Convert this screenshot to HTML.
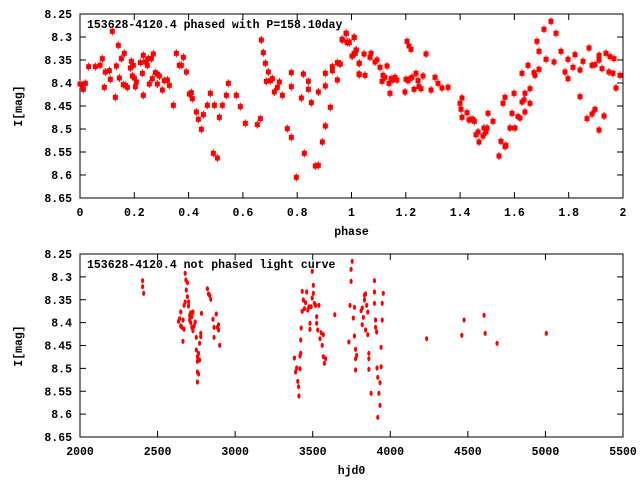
<!DOCTYPE html>
<html><head><meta charset="utf-8"><style>
body{margin:0;background:#fff}
svg text{font-family:"Liberation Mono",monospace;font-size:11.5px;font-weight:bold;fill:#000}
</style></head><body>
<svg id="s" width="640" height="480" xmlns="http://www.w3.org/2000/svg"></svg>
<script>
const s=document.getElementById('s');let h='';
function frame(x0,y0,x1,y1,xt,yl,title,xlab,ylabY){
 h+=`<rect x="${x0}" y="${y0}" width="${x1-x0}" height="${y1-y0}" fill="none" stroke="#000" stroke-width="1"/>`;
 const ys=['8.25','8.3','8.35','8.4','8.45','8.5','8.55','8.6','8.65'];
 ys.forEach((t,i)=>{const y=y0+(y1-y0)*i/8;h+=`<line x1="${x0}" y1="${y}" x2="${x0+6}" y2="${y}" stroke="#000"/><line x1="${x1}" y1="${y}" x2="${x1-6}" y2="${y}" stroke="#000"/><text x="72" y="${y+4}" text-anchor="end">${t}</text>`;});
 xt.forEach((t,i)=>{const x=x0+(x1-x0)*i/(xt.length-1);h+=`<line x1="${x}" y1="${y0}" x2="${x}" y2="${y0+6}" stroke="#000"/><line x1="${x}" y1="${y1}" x2="${x}" y2="${y1-6}" stroke="#000"/><text x="${x}" y="${y1+18}" text-anchor="middle">${t}</text>`;});
 h+=`<text x="87" y="${y0+14}">${title}</text><text x="${(x0+x1)/2}" y="${y1+37}" text-anchor="middle">${xlab}</text><text transform="translate(22,${ylabY}) rotate(-90)" text-anchor="middle">I[mag]</text>`;
}
frame(80,14,623,198,['0','0.2','0.4','0.6','0.8','1','1.2','1.4','1.6','1.8','2'],0,'153628-4120.4 phased with P=158.10day','phase',106);
frame(80,254,623,437,['2000','2500','3000','3500','4000','4500','5000','5500'],0,'153628-4120.4 not phased light curve','hjd0',346);
const z1=[[60,252],[66,258],[70,268],[76,250],[86,200],[106,200],[120,196],[127,176],[133,262],[136,216],[148,212],[151,238],[157,94],[166,292],[169,198],[175,136],[178,234],[184,176],[190,254],[193,160],[196,256],[202,262],[211,204],[214,184],[217,228],[220,196],[223,234],[226,260],[229,246],[241,188],[247,220],[250,166],[250,286],[256,186],[262,196],[265,176],[268,252],[274,176],[277,236],[280,162],[286,218],[292,222],[292,252],[298,228],[307,270],[313,242],[322,240],[328,256],[340,316],[349,160],[358,196],[364,196],[370,172],[379,216],[388,282],[394,278],[397,296],[409,336],[415,358],[424,388],[430,344],[442,316],[451,280],[460,460],[463,316],[472,474],[478,352],[487,316],[499,286],[505,250],[529,286],[541,320],[556,370],[592,374],[601,356],[604,120],[610,158],[616,190],[619,244],[625,216],[631,242],[637,236],[643,276],[652,262],[658,246],[667,286],[682,386],[694,218],[694,260],[694,412],[709,532],[724,294],[730,222],[733,460],[745,244],[745,268],[754,308],[766,498],[775,276],[775,496],[787,426],[796,220],[796,258],[796,378],[811,322],[817,200],[817,212],[832,188],[832,240],[841,192],[847,120],[859,100],[862,128],[868,128],[877,168],[883,112],[886,160],[889,150],[898,190],[898,224]];
const z2=[[0,192],[6,118],[18,100],[21,126],[27,126],[36,168],[42,160],[42,112],[48,150],[57,190],[57,222],[72,162],[75,226],[90,172],[93,160],[105,186],[111,180],[120,202],[126,244],[129,226],[135,232],[141,198],[147,250],[150,280],[153,236],[159,240],[165,232],[171,240],[195,276],[198,238],[201,124],[204,242],[207,138],[210,236],[213,148],[216,232],[222,268],[228,220],[234,242],[237,260],[243,266],[249,228],[258,162],[273,270],[285,232],[294,250],[306,264],[324,262],[360,310],[363,328],[366,294],[366,352],[381,338],[387,360],[393,358],[399,358],[403,364],[408,404],[414,396],[417,426],[429,408],[432,384],[438,396],[441,384],[444,340],[459,364],[477,468],[483,424],[489,310],[495,292],[495,440],[498,436],[510,384],[516,340],[522,280],[525,384],[534,350],[540,354],[546,220],[546,306],[552,300],[555,280],[555,336],[564,196],[570,266],[570,310],[582,218],[585,226],[591,124],[597,154],[597,208],[612,88],[618,178],[633,64],[642,186],[648,100],[663,154],[675,216],[684,178],[684,236],[699,202],[705,164],[720,210],[720,290],[729,184],[741,356],[747,144],[756,196],[756,342],[765,194],[765,328],[777,166],[777,180],[777,390],[786,206],[792,348],[798,160],[807,216],[810,170],[819,220],[822,176],[828,264],[840,226]];
z1.forEach(p=>pt(60+p[0]/3,p[1]/3));
z2.forEach(p=>pt(340+p[0]/3,p[1]/3));
function pt(x,y){h+=`<rect x="${x-2.5}" y="${y-2.5}" width="5" height="5" fill="#f00"/><line x1="${x}" y1="${y-4}" x2="${x}" y2="${y+4}" stroke="#f00"/>`;}
const z3=[[223,122],[223,140],[226,160],[320,244],[323,236],[326,258],[326,216],[329,262],[332,304],[332,240],[335,268],[335,196],[338,100],[338,186],[340,120],[341,150],[344,170],[344,128],[347,186],[347,198],[350,240],[350,226],[353,218],[353,248],[356,262],[356,230],[359,216],[359,272],[362,258],[365,246],[368,292],[368,330],[371,350],[371,364],[371,396],[371,426],[374,402],[374,340],[377,360],[377,310],[380,280],[380,290],[382,220],[398,146],[401,162],[404,166],[407,178],[413,238],[416,262],[416,292],[422,222],[425,262],[428,254],[428,270],[431,316],[633,354],[636,396],[639,384],[642,424],[644,440],[645,468],[648,348],[648,386],[650,300],[650,340],[651,264],[654,214],[654,154],[657,180],[660,206],[663,188],[666,156],[669,210],[672,200],[675,250],[675,268],[678,200],[681,174],[681,94],[684,136],[684,160],[687,190],[690,196],[693,250],[693,230],[696,270],[699,196],[702,296],[705,278],[708,316],[711,284],[711,350],[714,370],[717,356],[742,224],[780,306],[783,196],[786,124],[786,88],[789,64],[792,234],[795,202],[795,288],[798,356],[798,328],[801,346],[798,390],[813,212],[816,204],[816,254],[819,232],[822,180],[822,166],[825,270],[825,162],[828,196],[831,284],[831,216],[834,340],[834,356],[834,388],[840,460],[849,122],[849,156],[849,190],[852,240],[852,262],[855,276],[856,384],[858,412],[858,532],[861,460],[864,428],[864,496],[867,322],[867,380],[870,240],[870,190],[873,160],[990,296],[1085,286],[1091,240],[1145,226],[1148,280],[1180,310],[1313,280]];
z3.forEach(p=>{const x=60+p[0]/2.7,y=240+p[1]/3;h+=`<ellipse cx="${x}" cy="${y}" rx="1.6" ry="2.6" fill="#f00"/>`;});
s.innerHTML=h;
</script>
</body></html>
